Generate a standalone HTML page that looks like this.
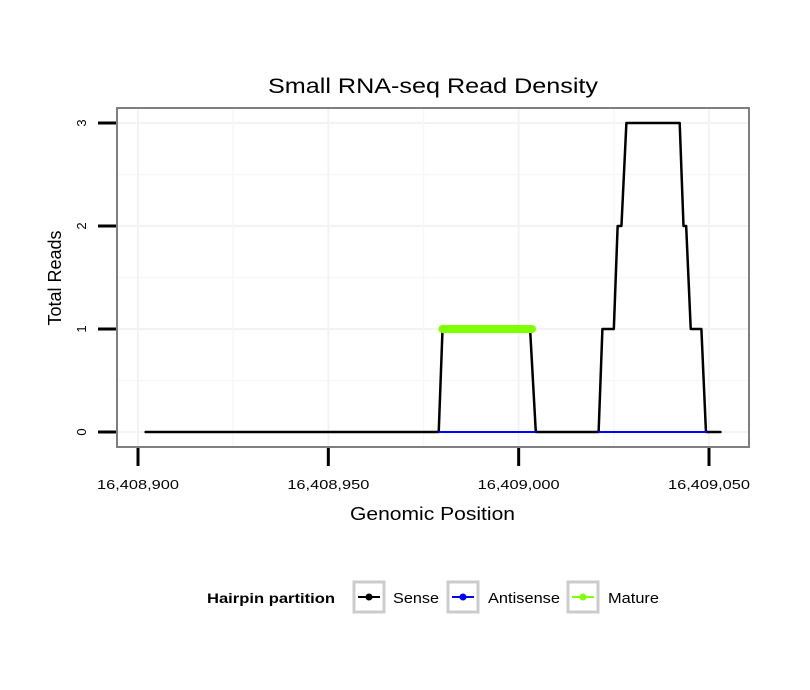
<!DOCTYPE html>
<html><head><meta charset="utf-8"><style>
body{margin:0;background:#fff;}
svg{display:block;font-family:"Liberation Sans",sans-serif;}
</style></head><body>
<svg id="chart" width="810" height="690">
<text x="268" y="93" font-size="21" textLength="330" lengthAdjust="spacingAndGlyphs">Small RNA-seq Read Density</text>
<rect x="117" y="108" width="632" height="339" fill="#fff" stroke="#7f7f7f" stroke-width="2"/>
<g id="grid"></g>
<g id="series"></g>
<g id="axes"></g>
<text x="350" y="520" font-size="18" textLength="165" lengthAdjust="spacingAndGlyphs">Genomic Position</text>
<text transform="translate(61,278) rotate(-90)" font-size="18" text-anchor="middle">Total Reads</text>
<g>
<text x="207" y="603" font-size="14" font-weight="bold" textLength="128" lengthAdjust="spacingAndGlyphs">Hairpin partition</text>
<g>
<rect x="354" y="582" width="30" height="30" fill="#fff" stroke="#ccc" stroke-width="3"/>
<line x1="358" y1="597" x2="380" y2="597" stroke="#000" stroke-width="2"/><circle cx="369" cy="597" r="3.5" fill="#000"/>
<text x="393" y="603" font-size="15" textLength="46" lengthAdjust="spacingAndGlyphs">Sense</text></g>
<g>
<rect x="448" y="582" width="30" height="30" fill="#fff" stroke="#ccc" stroke-width="3"/>
<line x1="452" y1="597" x2="474" y2="597" stroke="#00f" stroke-width="2"/><circle cx="463" cy="597" r="3.5" fill="#00f"/>
<text x="488" y="603" font-size="15" textLength="72" lengthAdjust="spacingAndGlyphs">Antisense</text></g>
<g>
<rect x="568" y="582" width="30" height="30" fill="#fff" stroke="#ccc" stroke-width="3"/>
<line x1="572" y1="597" x2="594" y2="597" stroke="#7fff00" stroke-width="2"/><circle cx="583" cy="597" r="3.5" fill="#7fff00"/>
<text x="608" y="603" font-size="15" textLength="51" lengthAdjust="spacingAndGlyphs">Mature</text></g>
</g>
</svg>
<script>
const xTicks=[16408900,16408950,16409000,16409050];
const xTickLabels=["16,408,900","16,408,950","16,409,000","16,409,050"];
const yTicks=[0,1,2,3];
const senseX=[16408902,16408979,16408980,16409003,16409004.5,16409021,16409022,16409025,16409026,16409027,16409028.3,16409042.3,16409043.3,16409044,16409045.2,16409048,16409049.2,16409053];
const senseY=[0,0,1,1,0,0,1,1,2,2,3,3,2,2,1,1,0,0];
const antisenseX1=[16408979,16409004.5];
const antisenseY1=[0,0];
const antisenseX2=[16409021,16409049.2];
const antisenseY2=[0,0];
const matureX=[16408980,16409003.5];
const matureY=[1,1];
const sx=v=>138+(v-16408900)*(709-138)/150;
const sy=v=>432-v*103;
const NS="http://www.w3.org/2000/svg";
function mk(p,t,a){const e=document.createElementNS(NS,t);for(const k in a)e.setAttribute(k,a[k]);p.appendChild(e);return e;}
const grid=document.getElementById('grid'),ax=document.getElementById('axes'),ser=document.getElementById('series');
yTicks.forEach((t,i)=>{
 const g=mk(grid,'line',{x1:118,x2:748,y1:sy(t),y2:sy(t),stroke:'#f3f3f3','stroke-width':2});
 
 
 if(i<yTicks.length-1){const m=mk(grid,'line',{x1:118,x2:748,y1:sy(t+0.5),y2:sy(t+0.5),stroke:'#f7f7f7','stroke-width':1.5});
 
 }
 const tk=mk(ax,'line',{x1:98,x2:116,y1:sy(t),y2:sy(t),stroke:'#000','stroke-width':3});
 
 
 const tl=mk(ax,'text',{transform:`translate(86,${sy(t)}) rotate(-90)`,'font-size':13,'text-anchor':'middle'});
 tl.textContent=t;
 
 
});
xTicks.forEach((t,i)=>{
 const g=mk(grid,'line',{x1:sx(t),x2:sx(t),y1:109,y2:446,stroke:'#f3f3f3','stroke-width':2});
 
 
 if(i<xTicks.length-1){const m=mk(grid,'line',{x1:sx(t+25),x2:sx(t+25),y1:109,y2:446,stroke:'#f7f7f7','stroke-width':1.5});
 
 }
 const tk=mk(ax,'line',{x1:sx(t),x2:sx(t),y1:448,y2:466,stroke:'#000','stroke-width':3});
 
 
 const tl=mk(ax,'text',{x:sx(t)-41,y:489,'font-size':13,textLength:82,lengthAdjust:'spacingAndGlyphs'});
 tl.textContent=xTickLabels[i];
 
 
});
function path(xs,ys,color,w,name){
 const p=mk(ser,'polyline',{points:xs.map((x,i)=>sx(x)+','+sy(ys[i])).join(' '),fill:'none',stroke:color,'stroke-width':w,'stroke-linejoin':'round','stroke-linecap':'round'});
 
 
}
path(senseX,senseY,'#000',2.5,'sense-line');
path(antisenseX1,antisenseY1,'#00f',2,'antisense-line');
path(antisenseX2,antisenseY2,'#00f',2,'antisense-line');
path(matureX,matureY,'#7fff00',8,'mature-line');
</script>
</body></html>
